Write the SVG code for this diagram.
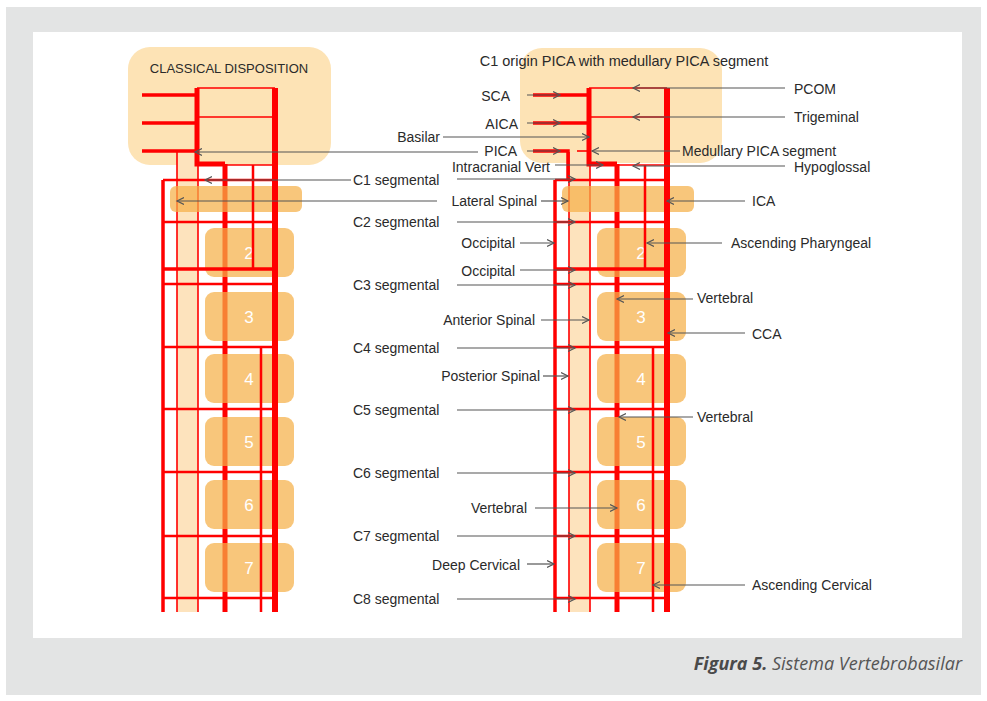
<svg xmlns="http://www.w3.org/2000/svg" width="987" height="701" viewBox="0 0 987 701">
<defs>
<style>
.lbl{font-family:"Liberation Sans",Arial,sans-serif;font-size:14px;fill:#2a2a2a}
.num{font-family:"Liberation Sans",Arial,sans-serif;font-size:17px;fill:#fff;text-anchor:middle}
.bigbox{fill:#fde3b5}
.band{fill:#fde3bd}
.vbox{fill:#f5b048;opacity:0.72}
.r{stroke:#ff0000;fill:none}
.t1{stroke-width:1.6}
.t2{stroke-width:2.5}
.t3{stroke-width:3.5}
.t5{stroke-width:5}
.t6{stroke-width:6}
.con line{stroke:#555;stroke-width:1.2;marker-end:url(#ah)}
</style>
<marker id="ah" markerWidth="9" markerHeight="9" refX="7" refY="4" orient="auto" markerUnits="userSpaceOnUse">
<path d="M0,0.5 L7,4 L0,7.5" fill="none" stroke="#555" stroke-width="1.2"/>
</marker>
<g id="colUnder">
<rect class="band" x="177" y="152" width="21" height="460"/>
<path class="r t1" d="M177,152 V612 M198,164 V612"/>
<path class="r t5" d="M225,164 V612"/>
</g>
<g id="colBoxes">
<rect class="vbox" x="170" y="186" width="132" height="26" rx="6"/>
<rect class="vbox" x="205" y="228" width="89" height="49" rx="9"/>
<rect class="vbox" x="205" y="292" width="89" height="49" rx="9"/>
<rect class="vbox" x="205" y="354" width="89" height="49" rx="9"/>
<rect class="vbox" x="205" y="417" width="89" height="49" rx="9"/>
<rect class="vbox" x="205" y="480" width="89" height="49" rx="9"/>
<rect class="vbox" x="205" y="543" width="89" height="49" rx="9"/>
<text class="num" x="249" y="259">2</text>
<text class="num" x="249" y="323">3</text>
<text class="num" x="249" y="385">4</text>
<text class="num" x="249" y="448">5</text>
<text class="num" x="249" y="511">6</text>
<text class="num" x="249" y="574">7</text>
</g>
<g id="colOver">
<path class="r t1" d="M197,88 H275 M197,117 H275 M198,165 H275"/>
<path class="r t2" d="M163,180 H275 M163,222 H275 M163,284 H275 M163,347 H275 M163,409 H275 M163,472 H275 M163,536 H275 M163,598 H275"/>
<path class="r t3" d="M163,269 H275"/>
<path class="r t2" d="M253,165 V269 M261,347 V612"/>
<path class="r t3" d="M163,180 V612"/>
<path class="r t6" d="M275,88 V612"/>
</g>
</defs>
<rect x="0" y="0" width="987" height="701" fill="#ffffff"/>
<rect x="6" y="7" width="975" height="688" fill="#e3e4e4"/>
<rect x="33" y="32" width="929" height="606" fill="#ffffff"/>

<g id="classical">
<rect class="bigbox" x="128" y="47" width="203" height="118" rx="22"/>
<text class="lbl" x="229" y="73" text-anchor="middle" style="font-size:13px">CLASSICAL DISPOSITION</text>
<use href="#colUnder"/>
<use href="#colBoxes"/>
<use href="#colOver"/>
<path class="r t3" d="M142,95 H197 M142,123 H197 M142,151 H197"/>
<path class="r t5" d="M197,88 V164 H225"/>
</g>

<g id="variant">
<rect class="bigbox" x="520" y="48" width="202" height="115" rx="22"/>
<g transform="translate(392,0)">
<use href="#colUnder"/>
<use href="#colBoxes"/>
<use href="#colOver"/>
</g>
<path class="r t3" d="M533,95 H589 M533,123 H589 M533,151 H568 V180"/>
<path class="r t1" d="M577,151 H589"/>
<path class="r t5" d="M589,88 V164 H617"/>
</g>

<g id="labels">
<text class="lbl" x="624" y="66" text-anchor="middle" style="font-size:14.5px">C1 origin PICA with medullary PICA segment</text>
<text class="lbl" x="510" y="101" text-anchor="end">SCA</text>
<text class="lbl" x="518" y="129" text-anchor="end">AICA</text>
<text class="lbl" x="440" y="142" text-anchor="end">Basilar</text>
<text class="lbl" x="517" y="156" text-anchor="end">PICA</text>
<text class="lbl" x="550" y="172" text-anchor="end">Intracranial Vert</text>
<text class="lbl" x="353" y="185">C1 segmental</text>
<text class="lbl" x="537" y="206" text-anchor="end">Lateral Spinal</text>
<text class="lbl" x="353" y="227">C2 segmental</text>
<text class="lbl" x="515" y="248" text-anchor="end">Occipital</text>
<text class="lbl" x="515" y="276" text-anchor="end">Occipital</text>
<text class="lbl" x="353" y="290">C3 segmental</text>
<text class="lbl" x="535" y="325" text-anchor="end">Anterior Spinal</text>
<text class="lbl" x="353" y="353">C4 segmental</text>
<text class="lbl" x="540" y="381" text-anchor="end">Posterior Spinal</text>
<text class="lbl" x="353" y="415">C5 segmental</text>
<text class="lbl" x="353" y="478">C6 segmental</text>
<text class="lbl" x="527" y="513" text-anchor="end">Vertebral</text>
<text class="lbl" x="353" y="541">C7 segmental</text>
<text class="lbl" x="520" y="570" text-anchor="end">Deep Cervical</text>
<text class="lbl" x="353" y="604">C8 segmental</text>
<text class="lbl" x="794" y="94">PCOM</text>
<text class="lbl" x="794" y="122">Trigeminal</text>
<text class="lbl" x="682" y="156">Medullary PICA segment</text>
<text class="lbl" x="794" y="172">Hypoglossal</text>
<text class="lbl" x="752" y="206">ICA</text>
<text class="lbl" x="731" y="248">Ascending Pharyngeal</text>
<text class="lbl" x="697" y="303">Vertebral</text>
<text class="lbl" x="752" y="339">CCA</text>
<text class="lbl" x="697" y="422">Vertebral</text>
<text class="lbl" x="752" y="590">Ascending Cervical</text>
</g>

<g id="connectors" class="con">
<line x1="527" y1="95" x2="560" y2="95"/>
<line x1="527" y1="123" x2="560" y2="123"/>
<line x1="527" y1="151" x2="560" y2="151"/>
<line x1="443" y1="137" x2="589" y2="137"/>
<line x1="555" y1="165" x2="603" y2="165"/>
<line x1="457" y1="179" x2="575" y2="179"/>
<line x1="541" y1="201" x2="568" y2="201"/>
<line x1="457" y1="222" x2="575" y2="222"/>
<line x1="520" y1="243" x2="554" y2="243"/>
<line x1="520" y1="270" x2="575" y2="270"/>
<line x1="457" y1="285" x2="575" y2="285"/>
<line x1="541" y1="320" x2="589" y2="320"/>
<line x1="457" y1="348" x2="575" y2="348"/>
<line x1="543" y1="376" x2="568" y2="376"/>
<line x1="457" y1="410" x2="575" y2="410"/>
<line x1="457" y1="473" x2="575" y2="473"/>
<line x1="535" y1="508" x2="617" y2="508"/>
<line x1="457" y1="536" x2="575" y2="536"/>
<line x1="527" y1="564" x2="554" y2="564"/>
<line x1="457" y1="599" x2="575" y2="599"/>
<line x1="478" y1="152" x2="195" y2="152"/>
<line x1="351" y1="180" x2="205" y2="180"/>
<line x1="437" y1="201" x2="177" y2="201"/>
<line x1="785" y1="88" x2="633" y2="88"/>
<line x1="785" y1="117" x2="633" y2="117"/>
<line x1="680" y1="151" x2="592" y2="151"/>
<line x1="785" y1="166" x2="633" y2="166"/>
<line x1="745" y1="201" x2="667" y2="201"/>
<line x1="722" y1="243" x2="647" y2="243"/>
<line x1="693" y1="299" x2="617" y2="299"/>
<line x1="745" y1="333" x2="668" y2="333"/>
<line x1="693" y1="417" x2="619" y2="417"/>
<line x1="745" y1="585" x2="653" y2="585"/>
</g>

<g id="caption">
<text x="962" y="670" text-anchor="end" style="font-family:'Open Sans','Liberation Sans',sans-serif;font-size:18px;font-style:italic;fill:#555"><tspan style="font-weight:bold;fill:#4a4a4a">Figura 5.</tspan> Sistema Vertebrobasilar</text>
</g>
</svg>
